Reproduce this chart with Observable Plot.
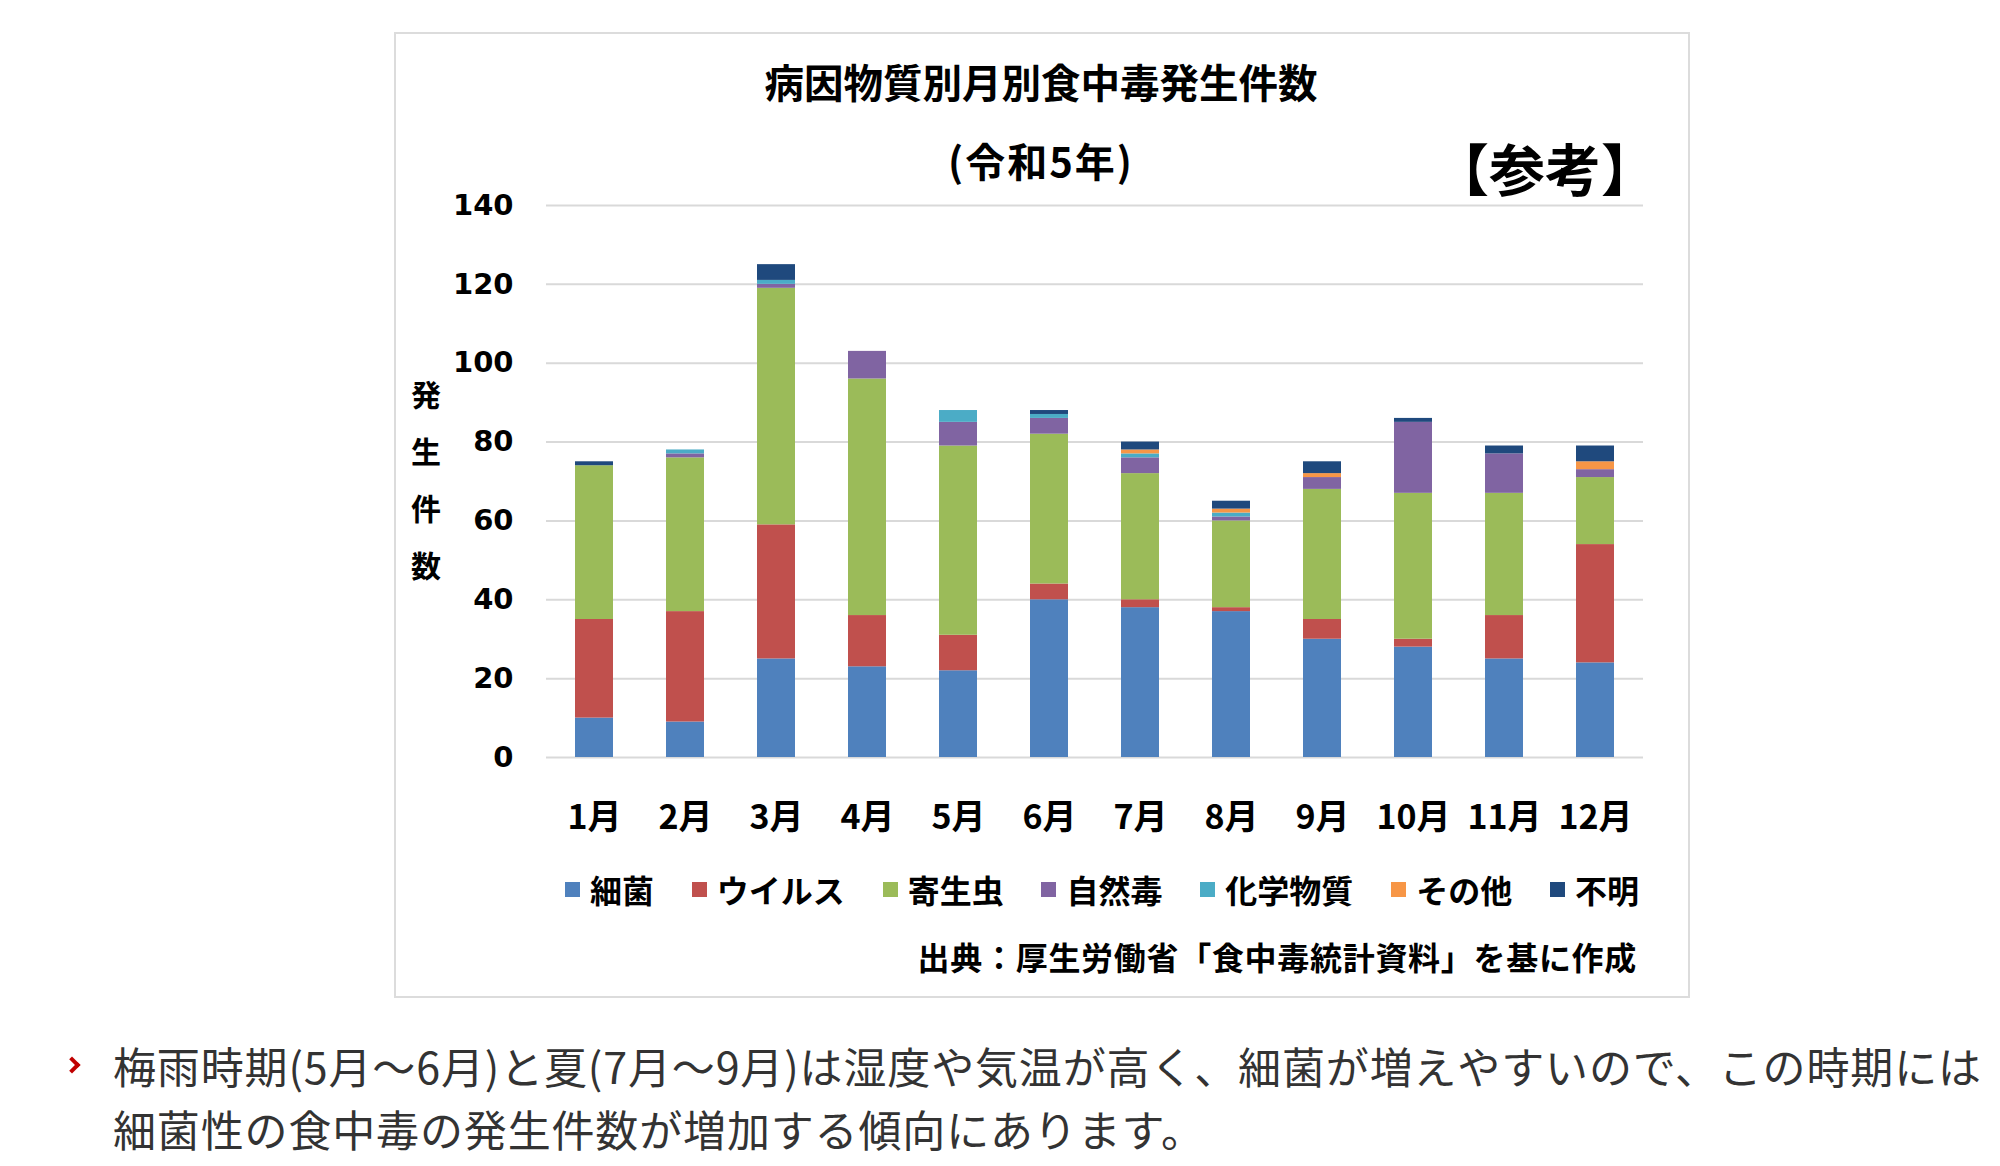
<!DOCTYPE html>
<html>
<head>
<meta charset="utf-8">
<script src="https://cdn.jsdelivr.net/npm/d3@7"></script>
<script src="https://cdn.jsdelivr.net/npm/@observablehq/plot@0.6"></script>
<style>
  html, body { margin: 0; padding: 0; background: #fff; }
  body { width: 2000px; height: 1166px; position: relative; overflow: hidden;
         font-family: "Noto Sans CJK JP", "Noto Sans", sans-serif; }
  .abs { position: absolute; white-space: nowrap; }
  #frame { position: absolute; left: 394px; top: 32px; width: 1292px; height: 962px;
           border: 2px solid #dcdcdc; box-sizing: content-box; }
  #chart { position: absolute; left: 0; top: 0; }
  .b { font-weight: 700; color: #000; }
  #legend { position: absolute; left: 565px; top: 868px; width: 1074px; height: 42px;
            display: flex; justify-content: space-between; align-items: center; }
  #legend .item { display: flex; align-items: center; font-size: 32px; font-weight: 700; color: #000; line-height: 42px; }
  #legend .sw { width: 15px; height: 15px; margin-right: 10px; }
  #para { position: absolute; left: 113px; top: 1034px; font-size: 43px; line-height: 63px; color: #333;
          white-space: nowrap; letter-spacing: 0.85px; }
  #bullet { position: absolute; left: 66px; top: 1059px; width: 8px; height: 8px;
            border-top: 4px solid #c00000; border-right: 4px solid #c00000; transform: rotate(45deg); }
</style>
</head>
<body>
<div id="frame"></div>
<div id="chart"></div>
<div class="abs b" id="title" style="left:741px; width:600px; text-align:center; top:59px; font-size:39.5px; line-height:44px;"></div>
<div class="abs b" id="subtitle" style="left:841px; width:400px; text-align:center; top:138px; font-size:40px; line-height:44px; letter-spacing:2px;"></div>
<div class="abs b" id="sanko" style="left:1395px; width:300px; text-align:center; top:136px; font-size:56px; line-height:62px;"></div>
<div class="abs b" id="ylabel" style="left:411px; top:380px; font-size:30px; line-height:30px; writing-mode: vertical-rl; letter-spacing:27px;"></div>
<div id="legend"></div>
<div class="abs b" id="source" style="right:363px; top:936px; font-size:32px; line-height:40px; text-align:right; letter-spacing:0.7px;"></div>
<div id="bullet"></div>
<div id="para"></div>
<script>
// ---- data ----
const months = ["1月","2月","3月","4月","5月","6月","7月","8月","9月","10月","11月","12月"];
const seriesNames = ["細菌","ウイルス","寄生虫","自然毒","化学物質","その他","不明"];
const seriesColors = ["#4F81BD","#C0504D","#9BBB59","#8064A2","#4BACC6","#F79646","#1F497D"];
const bacteria  = [10, 9, 25, 23, 22, 40, 38, 37, 30, 28, 25, 24];
const virus     = [25, 28, 34, 13, 9, 4, 2, 1, 5, 2, 11, 30];
const parasite  = [39, 39, 60, 60, 48, 38, 32, 22, 33, 37, 31, 17];
const natural   = [0, 1, 1, 7, 6, 4, 4, 1, 3, 18, 10, 2];
const chemical  = [0, 1, 1, 0, 3, 1, 1, 1, 0, 0, 0, 0];
const other     = [0, 0, 0, 0, 0, 0, 1, 1, 1, 0, 0, 2];
const unknown   = [1, 0, 4, 0, 0, 1, 2, 2, 3, 1, 2, 4];
const yTicks = [0, 20, 40, 60, 80, 100, 120, 140];
const titleText = "病因物質別月別食中毒発生件数";
const subtitleText = "(令和5年)";
const sankoText = "【参考】";
const yLabelText = "発生件数";
const sourceText = "出典：厚生労働省「食中毒統計資料」を基に作成";
const paraLines = ["梅雨時期(5月～6月)と夏(7月～9月)は湿度や気温が高く、細菌が増えやすいので、この時期には",
                   "細菌性の食中毒の発生件数が増加する傾向にあります。"];

const seriesValues = [bacteria, virus, parasite, natural, chemical, other, unknown];
const data = [];
seriesNames.forEach((s, si) => {
  months.forEach((m, mi) => data.push({month: m, series: s, value: seriesValues[si][mi]}));
});

const chart = Plot.plot({
  width: 2000,
  height: 1000,
  marginLeft: 546,
  marginRight: 357,
  marginTop: 205,
  marginBottom: 243,
  style: {background: "transparent", color: "#000", overflow: "visible"},
  x: {domain: months, paddingInner: 0.584, paddingOuter: 0.292, label: null},
  y: {domain: [0, 140], label: null},
  color: {domain: seriesNames, range: seriesColors},
  marks: [
    Plot.ruleY(yTicks, {stroke: "#d9d9d9", strokeWidth: 2}),
    Plot.barY(data, {x: "month", y: "value", fill: "series", order: seriesNames}),
    Plot.axisY(yTicks, {tickSize: 0, tickPadding: 33, fontSize: 29, fontWeight: "bold",
                fontFamily: "DejaVu Sans", label: null, fill: "#000"}),
    Plot.axisX({tickSize: 0, tickPadding: 47, fontSize: 34, fontWeight: "bold",
                fontFamily: "Noto Sans CJK JP", label: null, fill: "#000"})
  ]
});
document.getElementById("chart").appendChild(chart);

document.getElementById("title").textContent = titleText;
document.getElementById("subtitle").textContent = subtitleText;
document.getElementById("sanko").textContent = sankoText;
document.getElementById("ylabel").textContent = yLabelText;
document.getElementById("source").textContent = sourceText;

const legend = document.getElementById("legend");
seriesNames.forEach((s, i) => {
  const item = document.createElement("div");
  item.className = "item";
  const sw = document.createElement("span");
  sw.className = "sw";
  sw.style.background = seriesColors[i];
  const t = document.createElement("span");
  t.textContent = s;
  item.appendChild(sw); item.appendChild(t);
  legend.appendChild(item);
});

const para = document.getElementById("para");
paraLines.forEach((line, i) => {
  const d = document.createElement("div");
  d.textContent = line;
  para.appendChild(d);
});
</script>
</body>
</html>
